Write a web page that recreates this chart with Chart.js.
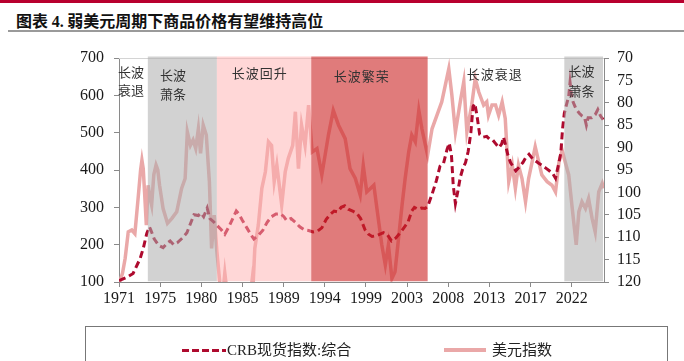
<!DOCTYPE html>
<html><head><meta charset="utf-8">
<script src="https://cdn.jsdelivr.net/npm/chart.js@4/dist/chart.umd.min.js"></script>
<style>
html,body{margin:0;padding:0;background:#fff;}
#wrap{position:relative;width:684px;height:361px;overflow:hidden;}
#topbar{position:absolute;left:0;top:0;width:684px;height:3px;background:#b8002e;}
#title{position:absolute;left:16px;top:10px;font:bold 16px "Noto Sans CJK SC",sans-serif;color:#111;white-space:nowrap;line-height:20px;}
#title .n{font-family:"Liberation Serif",serif;}
#rule{position:absolute;left:8px;top:30px;width:676px;height:2px;background:#9a9a9a;}
#chartbox{position:absolute;left:0;top:0;width:684px;height:361px;}
#legend{position:absolute;left:85px;top:326px;width:581px;height:60px;border:1px solid #777;}
.sw{position:absolute;}
.lt{position:absolute;font:15px "Liberation Serif","Noto Sans CJK SC",serif;color:#222;line-height:18px;white-space:nowrap;}
</style></head>
<body>
<div id="wrap">
  <div id="topbar"></div>
  <div id="title">图表 <span class="n">4.</span> 弱美元周期下商品价格有望维持高位</div>
  <div id="rule"></div>
  <div id="chartbox"><canvas id="c" width="684" height="361"></canvas></div>
  <div id="legend"></div>
  <div class="sw" style="left:182px;top:349px;width:44px;height:3px;background:repeating-linear-gradient(90deg,#ae0a2e 0 7px,transparent 7px 10px);"></div>
  <div class="lt" style="left:227px;top:341px;">CRB现货指数:综合</div>
  <div class="sw" style="left:444px;top:348px;width:42px;height:4px;background:#eaa8a8;"></div>
  <div class="lt" style="left:492px;top:341px;">美元指数</div>
</div>
<script>
// ---- data ----
const crbYears = [1971.0,1971.9,1972.6,1973.4,1973.75,1974.15,1974.45,1974.6,1975.0,1975.5,1976.0,1976.5,1976.8,1977.2,1977.6,1978.2,1978.7,1979.2,1979.5,1980.0,1980.3,1980.6,1981.0,1981.3,1981.7,1982.1,1982.6,1983.0,1983.5,1984.0,1984.3,1984.6,1985.0,1985.5,1986.0,1986.3,1986.8,1987.3,1987.8,1988.3,1988.8,1989.3,1989.7,1990.0,1990.5,1991.0,1991.5,1992.0,1992.5,1993.0,1993.5,1994.0,1994.5,1995.0,1995.4,1995.8,1996.2,1996.6,1997.0,1997.5,1998.0,1998.4,1998.9,1999.3,1999.7,2000.2,2000.6,2001.0,2001.4,2001.9,2002.4,2002.9,2003.4,2003.8,2004.2,2004.5,2004.9,2005.3,2005.7,2006.0,2006.5,2007.0,2007.4,2007.8,2008.2,2008.45,2008.7,2008.9,2009.15,2009.4,2009.7,2010.0,2010.3,2010.6,2010.9,2011.15,2011.35,2011.6,2011.9,2012.3,2012.7,2013.0,2013.4,2013.8,2014.1,2014.4,2014.6,2014.8,2015.1,2015.4,2015.8,2016.0,2016.4,2016.8,2017.1,2017.5,2017.9,2018.2,2018.6,2019.0,2019.4,2019.8,2020.2,2020.5,2020.8,2021.1,2021.3,2021.5,2021.75,2022.0,2022.15,2022.3,2022.5,2022.8,2023.2,2023.5,2023.8,2024.0,2024.2,2024.6,2025.0,2025.3,2025.6,2025.9];
const crbValues = [104,113,123,163,190,230,248,240,215,198,192,205,210,200,205,218,232,262,280,278,285,275,298,270,262,252,240,228,250,275,290,282,265,245,225,215,225,238,260,275,282,283,275,265,270,260,248,240,238,234,236,245,268,282,290,288,300,304,295,290,283,270,240,228,222,224,228,232,228,210,218,232,248,262,290,300,295,298,297,302,335,372,410,418,455,472,440,360,310,340,380,405,420,450,500,570,578,545,495,488,490,483,480,468,460,470,488,470,440,420,405,398,408,420,432,442,430,425,418,412,405,398,390,378,410,445,510,552,575,598,635,605,582,565,552,545,540,520,540,540,548,562,545,535];

const usdYears = [1971.0,1971.4,1971.7,1972.05,1972.45,1972.8,1973.2,1973.45,1973.6,1973.75,1973.9,1974.1,1974.3,1974.5,1974.7,1974.95,1975.2,1975.4,1975.6,1976.0,1976.5,1977.0,1977.55,1978.1,1978.5,1978.75,1979.1,1979.4,1979.7,1980.0,1980.25,1980.55,1980.9,1981.25,1981.5,1981.8,1982.1,1982.45,1982.7,1983.0,1983.3,1984.0,1985.1,1985.6,1985.95,1986.1,1986.2,1986.4,1986.8,1987.2,1987.6,1987.95,1988.3,1988.6,1988.9,1989.45,1989.85,1990.2,1990.7,1991.0,1991.35,1991.7,1992.1,1992.5,1992.9,1993.45,1994.0,1994.75,1995.3,1995.9,1996.65,1997.2,1997.8,1998.35,1998.7,1999.1,1999.9,2000.25,2000.8,2001.2,2001.55,2001.95,2002.3,2002.7,2003.1,2003.45,2003.85,2004.2,2004.6,2005.0,2005.35,2005.75,2006.0,2006.5,2007.05,2007.6,2008.0,2008.4,2008.75,2009.15,2009.7,2010.1,2010.45,2011.0,2011.4,2011.8,2012.35,2012.7,2012.9,2013.3,2013.7,2014.05,2014.45,2014.8,2015.2,2015.6,2015.95,2016.3,2016.7,2017.1,2017.45,2017.85,2018.2,2018.6,2018.95,2019.55,2020.1,2020.5,2020.9,2021.25,2021.6,2022.0,2022.4,2022.85,2023.15,2023.5,2023.9,2024.25,2024.65,2025.0,2025.4,2025.8,2025.95];
const usdValues = [120.5,118,114.7,108.8,108.4,109.2,100.6,95,92.8,94.7,100,107.3,98.4,101,102.8,96,93.9,95,98.4,103.6,106.9,105.8,104.3,99.1,96.9,86.5,89.5,88.3,90.2,85.8,91.3,85.0,87.2,97.6,112.5,105.1,113.2,120.5,124,118,123,135,158,140,122,119.5,121,112.5,107.3,99.1,95.4,88.7,89.5,97.6,93.9,102.8,95.4,92.4,89.5,82.0,94.7,85.0,89.5,80.5,91.0,90.2,96.1,87.2,81.7,85.0,88.0,94.7,96.9,100.6,94,99.9,98.4,103.6,111.7,116.2,111.7,119.2,117.7,110.3,102.8,96.9,91.0,87.2,88.7,81.7,85.8,89.5,91.7,85.8,82.8,79.8,76.1,72.4,78.3,86.5,79.8,75.3,86.5,80.5,74.6,77.6,80.5,79.8,82.8,80.5,80.5,82.8,79.8,83.5,97.6,93.9,99.1,93.9,96.9,102.1,96.9,93.2,89.8,93.2,96.1,97.6,98.4,99.9,93.2,90.6,93.2,96.1,103.6,111.7,104.3,102.1,103.6,101.4,105.8,108.8,99.9,98.0,99.1];

const tickYears = [1971,1975.67,1980.33,1985,1989.67,1994.33,1999,2003.67,2008.33,2013,2017.67,2022.33];
const tickLabels = ['1971','1975','1980','1985','1989','1994','1999','2003','2008','2013','2017','2022'];

const bandStarts = [1974.27,1982.1,1992.8,2021.5];
const bandEnds = [1982.1,1992.8,2006.0,2026.0];
const phaseNames = [['长波','衰退'],['长波','萧条'],['长波回升'],['长波繁荣'],['长波衰退'],['长波','萧条']];
const phaseYears = [1972.36,1977.13,1986.9,1998.47,2013.56,2023.44];

// ---- styles ----
const bandFills = ['rgba(173,173,173,0.55)','rgba(255,175,175,0.5)','rgba(204,35,35,0.6)','rgba(173,173,173,0.55)'];
const phaseOffsets = [[14,32],[17,36],[15],[18],[16],[13,33]];

const SERIF = '"Liberation Serif","Times New Roman",serif';

const bandPlugin = {
  id:'bands',
  beforeDatasetsDraw(chart){
    const {ctx, chartArea:a} = chart;
    ctx.save();
    ctx.strokeStyle = '#d4d4d4'; ctx.lineWidth = 1;
    ctx.beginPath(); ctx.moveTo(a.left, a.top + 0.5); ctx.lineTo(a.right, a.top + 0.5); ctx.stroke();
    ctx.restore();
  },
  afterDatasetsDraw(chart){
    const {ctx, chartArea:a, scales:{x}} = chart;
    ctx.save();
    ctx.beginPath(); ctx.rect(a.left + 0.5, a.top - 2, a.right - a.left - 1.5, a.bottom - a.top + 1.5); ctx.clip();
    bandStarts.forEach((s,i)=>{
      const x0 = x.getPixelForValue(s), x1 = x.getPixelForValue(bandEnds[i]);
      ctx.fillStyle = bandFills[i];
      ctx.fillRect(x0, a.top - 1.5, x1 - x0, a.bottom - a.top + 1);
    });
    ctx.restore();
    ctx.save();
    ctx.fillStyle = '#333';
    ctx.font = '13px "Noto Sans CJK SC",sans-serif';
    ctx.textAlign = 'center'; ctx.textBaseline = 'middle';
    phaseNames.forEach((lines,i)=>{
      const cx = x.getPixelForValue(phaseYears[i]);
      lines.forEach((t,j)=>{
        const chars = [...t];
        const adv = chars.length > 2 ? 14 : 13;
        const x0 = cx - chars.length*adv/2 + adv/2;
        chars.forEach((c,k)=>ctx.fillText(c, x0 + k*adv, a.top + phaseOffsets[i][j]));
      });
    });
    ctx.restore();
  }
};

new Chart(document.getElementById('c'), {
  type:'line',
  data:{
    datasets:[
      {label:'CRB现货指数:综合', data: crbYears.map((t,i)=>({x:t,y:crbValues[i]})), yAxisID:'y',
       borderColor:'#ae0a2e', borderWidth:3, borderDash:[7,4], pointRadius:0, tension:0, fill:false, clip:0},
      {label:'美元指数', data: usdYears.map((t,i)=>({x:t,y:usdValues[i]})), yAxisID:'y1',
       borderColor:'#eaa8a8', borderWidth:3.5, pointRadius:0, tension:0, fill:false, clip:0}
    ]
  },
  options:{
    responsive:false, animation:false, devicePixelRatio:1,
    layout:{padding:{top:58,left:0,right:0,bottom:49}},
    plugins:{legend:{display:false}, tooltip:{enabled:false}},
    scales:{
      x:{type:'linear', min:1971, max:2026,
        afterBuildTicks(s){ s.ticks = tickYears.map(v=>({value:v})); },
        afterFit(s){ s.height = 30; },
        ticks:{autoSkip:false, maxRotation:0, padding:2, color:'#1a1a1a', font:{family:SERIF,size:16},
          callback(v,i){ return tickLabels[i]; }},
        grid:{drawOnChartArea:false, drawTicks:true, tickLength:5, color:'#8a8a8a'},
        border:{display:true, color:'#8a8a8a', width:1}
      },
      y:{position:'left', min:100, max:700,
        afterFit(s){ s.width = 119; },
        ticks:{stepSize:100, padding:10, color:'#1a1a1a', font:{family:SERIF,size:16}},
        grid:{drawOnChartArea:false, drawTicks:true, tickLength:5, color:'#8a8a8a'},
        border:{display:true, color:'#8a8a8a', width:1}
      },
      y1:{position:'right', min:70, max:120, reverse:true,
        afterFit(s){ s.width = 80; },
        ticks:{stepSize:5, padding:8, color:'#1a1a1a', font:{family:SERIF,size:16}},
        grid:{drawOnChartArea:false, drawTicks:true, tickLength:5, color:'#8a8a8a'},
        border:{display:true, color:'#8a8a8a', width:1}
      }
    }
  },
  plugins:[bandPlugin]
});
</script>
</body></html>
